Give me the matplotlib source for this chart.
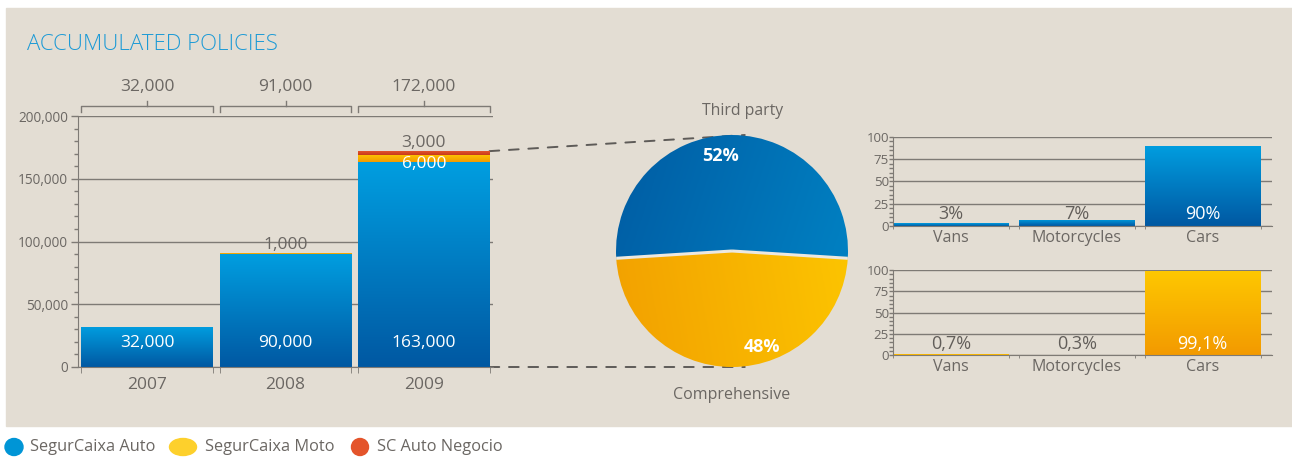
import numpy as np
import matplotlib
matplotlib.use("Agg")
import matplotlib.pyplot as plt
from matplotlib.patches import Rectangle, Ellipse, ConnectionPatch
from matplotlib.colors import LinearSegmentedColormap
import matplotlib.transforms as mtransforms

plt.rcParams['font.family'] = ['Open Sans', 'DejaVu Sans']

# accumulated policies per year
years = ["2007", "2008", "2009"]
auto_vals = [32000, 90000, 163000]
moto_vals = [0, 1000, 6000]
negocio_vals = [0, 0, 3000]
totals = [32000, 91000, 172000]

# cover split
cover_labels = ["Third party", "Comprehensive"]
cover_pct = [52, 48]

# vehicle split
vehicle_types = ["Vans", "Motorcycles", "Cars"]
auto_share = [3, 7, 90]
moto_share = [0.7, 0.3, 99.1]

legend_names = ["SegurCaixa Auto", "SegurCaixa Moto", "SC Auto Negocio"]

BG = "#E3DDD3"
TXT = "#6B6763"
GRID = "#7E7A75"
BLUE = ("#009EE0", "#0058A2")
ORANGE = ("#FEC800", "#F39A00")
RED = ("#E4542B", "#C63A1C")
W = 1292.0
H = 459.0


def fig_box(x0, y0, x1, y1):
    # pixel box (top-left origin) -> figure fraction rect
    return [x0 / W, 1 - y1 / H, (x1 - x0) / W, (y1 - y0) / H]


def grad_bar(ax, x, bottom, height, width, colors, z=2):
    bar = ax.bar(x, height, width, bottom=bottom, color="none", linewidth=0, zorder=z)[0]
    cmap = LinearSegmentedColormap.from_list("g", [colors[1], colors[0]])
    grad = np.linspace(0, 1, 256).reshape(-1, 1)
    im = ax.imshow(grad, cmap=cmap, origin="lower", aspect="auto", zorder=z,
                   extent=(x - width / 2, x + width / 2, bottom, bottom + height))
    im.set_clip_path(bar)
    return bar


def style_axis(ax, ymax, major, minor):
    ax.set_facecolor("none")
    for s in ["top", "right"]:
        ax.spines[s].set_visible(False)
    ax.spines["left"].set_color(GRID)
    ax.spines["bottom"].set_color(GRID)
    ax.set_ylim(0, ymax)
    ax.set_yticks(np.arange(0, ymax + 1, major))
    ax.set_yticks(np.arange(0, ymax + 1, minor), minor=True)
    ax.tick_params(axis="y", which="major", colors=GRID, labelcolor=TXT, length=5, width=1, pad=2)
    ax.tick_params(axis="y", which="minor", colors=GRID, length=3, width=1)
    ax.yaxis.grid(True, color=GRID, linewidth=1)
    ax.set_axisbelow(True)


fig = plt.figure(figsize=(W / 100, H / 100), dpi=100)
fig.patch.set_facecolor("white")
fig.patches.append(Rectangle((6 / W, 1 - 426 / H), 1 - 6 / W, (426 - 8) / H,
                             transform=fig.transFigure, color=BG, zorder=-1))

fig.text(27 / W, 1 - 44 / H, "ACCUMULATED POLICIES", color="#1C9AD6",
         fontsize=16, va="center", ha="left", fontweight="light")

# ---- stacked bars ----
ax = fig.add_axes(fig_box(78, 116, 493, 367))
style_axis(ax, 200000, 50000, 10000)
ax.yaxis.set_major_formatter(matplotlib.ticker.FuncFormatter(lambda v, p: f"{int(v):,}"))
ax.tick_params(axis="y", labelsize=9.8)
x = np.arange(len(years))
bw = 0.95
for i in x:
    b = 0
    for vals, cols in [(auto_vals, BLUE), (moto_vals, ORANGE), (negocio_vals, RED)]:
        if vals[i] > 0:
            grad_bar(ax, i, b, vals[i], bw, cols)
        b += vals[i]
ax.set_xlim(-0.5, 2.5)
ax.set_ylim(0, 200000)
ax.set_xticks(x)
ax.set_xticklabels(years, fontsize=12.5, color=TXT)
ax.set_xticks(np.concatenate([x - bw / 2, x + bw / 2]), minor=True)
ax.tick_params(axis="x", which="major", length=0, pad=7.5)
ax.tick_params(axis="x", which="minor", length=4, colors=GRID)

tr = mtransforms.blended_transform_factory(ax.transData, ax.transAxes)
for i in x:
    ax.text(i, 0.095, f"{auto_vals[i]:,}", transform=tr, color="white",
            fontsize=12.5, ha="center", va="center", zorder=5)
    # bracket with total above each bar
    l, r = i - bw / 2, i + bw / 2
    ax.plot([l, l, r, r], [1.016, 1.04, 1.04, 1.016], transform=tr, color=GRID,
            lw=1, clip_on=False)
    ax.plot([i, i], [1.04, 1.06], transform=tr, color=GRID, lw=1, clip_on=False)
    ax.text(i, 1.115, f"{totals[i]:,}", transform=tr, color=TXT, fontsize=12.5,
            ha="center", va="center")
# small segment labels
ax.annotate(f"{moto_vals[1]:,}", (1, auto_vals[1] + moto_vals[1]), xytext=(0, 0),
            textcoords="offset points", ha="center", va="bottom", color=TXT, fontsize=12.5)
ax.annotate(f"{negocio_vals[2]:,}", (2, totals[2]), xytext=(0, 0),
            textcoords="offset points", ha="center", va="bottom", color=TXT, fontsize=12.5)
ax.annotate(f"{moto_vals[2]:,}", (2, auto_vals[2]), xytext=(0, -1),
            textcoords="offset points", ha="center", va="center", color="white",
            fontsize=12.5, zorder=5)

# ---- pie ----
pax = fig.add_axes(fig_box(616, 135, 848, 367))
pax.set_aspect("equal")
tilt = (cover_pct[0] - 50) * 3.6 / 2
wedges, _ = pax.pie(cover_pct, startangle=-tilt, counterclock=True, radius=1,
                    wedgeprops=dict(linewidth=0, edgecolor="none"))
gx, gy = np.meshgrid(np.linspace(0, 1, 200), np.linspace(0, 1, 200))
pie_cols = [("#0085C6", "#005CA3"), ("#FDC700", "#F2A000")]
for w, (c_hi, c_lo), d in zip(wedges, pie_cols, [(0.75, -0.25), (0.85, 0.15)]):
    w.set_facecolor("none")
    cm = LinearSegmentedColormap.from_list("p", [c_lo, c_hi])
    img = gx * d[0] + gy * d[1]
    im = pax.imshow(img, cmap=cm, origin="lower", extent=(-1, 1, -1, 1), zorder=1)
    im.set_clip_path(w)
# separator between wedges
for ang in [np.deg2rad(-tilt), np.deg2rad(180 + tilt)]:
    pax.plot([0, np.cos(ang)], [0, np.sin(ang)], color="#ECE8E0", lw=2.2, zorder=3,
             solid_capstyle="butt")
pax.set_xlim(-1, 1)
pax.set_ylim(-1, 1)
pax.axis("off")
pax.text(-0.1, 0.82, f"{cover_pct[0]}%", color="white", fontsize=13,
         fontweight="bold", ha="center", va="center", zorder=4)
pax.text(0.26, -0.83, f"{cover_pct[1]}%", color="white", fontsize=13,
         fontweight="bold", ha="center", va="center", zorder=4)
pax.text(0.09, 1.21, cover_labels[0], color=TXT, fontsize=11.3, ha="center", va="center")
pax.text(0.0, -1.24, cover_labels[1], color=TXT, fontsize=11.5, ha="center", va="center")

# dashed guides from 2009 bar to pie
for ya, yb in [(totals[2], 1), (0, -1)]:
    con = ConnectionPatch(xyA=(2 + bw / 2, ya), coordsA=ax.transData,
                          xyB=(0.11, yb), coordsB=pax.transData,
                          color="#5E5B58", lw=1.4, linestyle=(0, (5, 5)), zorder=0)
    fig.add_artist(con)


# ---- vehicle split charts ----
def share_chart(box, vals, cols):
    a = fig.add_axes(fig_box(*box))
    style_axis(a, 100, 25, 5)
    a.tick_params(axis="y", labelsize=9.5)
    a.tick_params(axis="y", which="major", length=3, pad=0)
    xs = np.arange(len(vals))
    w = 0.92
    tr_a = mtransforms.blended_transform_factory(a.transData, a.transAxes)
    for i, v in enumerate(vals):
        if v > 0:
            grad_bar(a, i, 0, v, w, cols)
        inside = v > 20
        a.text(i, 0.13, f"{v:g}%".replace(".", ","), transform=tr_a,
               color="white" if inside else "#625E5A", fontsize=13, ha="center",
               va="center", zorder=5)
    a.set_xlim(-0.45, 2.55)
    a.set_ylim(0, 100)
    a.set_xticks(xs)
    a.set_xticklabels(vehicle_types, fontsize=11.5, color=TXT)
    a.set_xticks(np.concatenate([xs - w / 2, xs + w / 2]), minor=True)
    a.tick_params(axis="x", which="major", length=0, pad=3)
    a.tick_params(axis="x", which="minor", length=2, colors=GRID)
    return a


share_chart((893, 137, 1272, 226), auto_share, BLUE)
share_chart((893, 270, 1272, 355), moto_share, ORANGE)

# ---- legend ----
lax = fig.add_axes([0, 0, 1, 1 - 426 / H])
lax.set_xlim(0, W)
lax.set_ylim(0, H - 426)
lax.axis("off")
legend_cols = ["#0095D6", "#FDD02C", "#E4542B"]
legend_pos = [(14, 18, 30), (183, 27, 205), (360, 17, 377)]
for name, c, (cx, ew, tx) in zip(legend_names, legend_cols, legend_pos):
    lax.add_patch(Ellipse((cx, 12), ew, 17, color=c))
    lax.text(tx, 12, name, color=TXT, fontsize=11.8, va="center", ha="left")

fig.savefig("out.png", dpi=100, facecolor=fig.get_facecolor())
